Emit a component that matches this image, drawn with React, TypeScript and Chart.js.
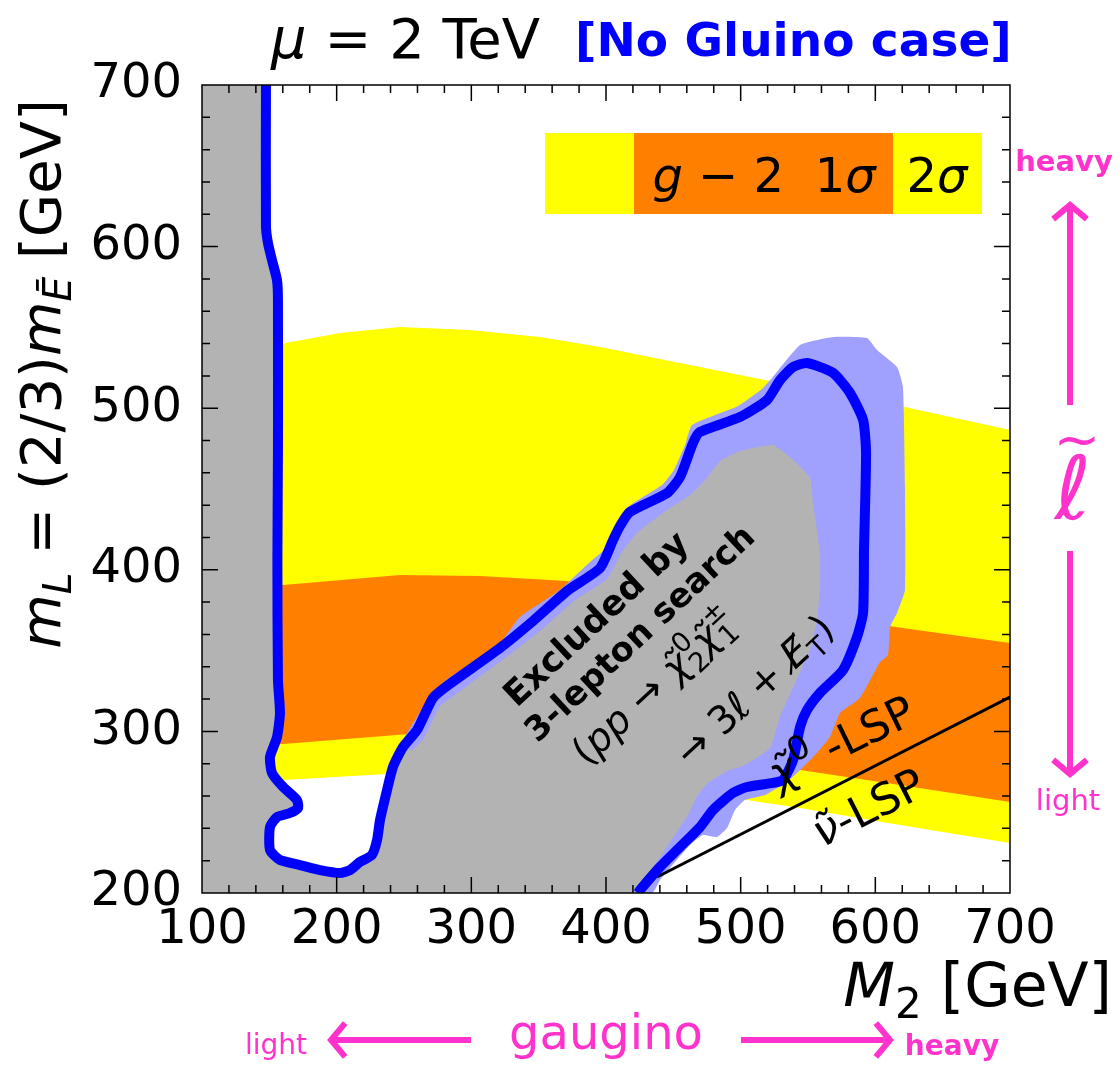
import React, { useEffect, useRef } from 'react';
import { Chart, registerables } from 'chart.js';

Chart.register(...registerables);

type P = [number, number];

// ---------- data (GeV) ----------
const xRange: P = [100, 700];
const yRange: P = [200, 700];
const tickStep = 100;
const minorStep = 20;

// blue solid exclusion contour (3-lepton search)
const exclusionContour: P[] = [
  [147.5, 700], [147.5, 612.6], [149.0, 602.1], [152.0, 591.6], [155.7, 579.2], [156.4, 566.9],
  [156.4, 474.1], [156.0, 406.1], [156.4, 331.8], [157.9, 311.4], [155.7, 296.5], [150.5, 284.2],
  [152.0, 274.3], [160.2, 265.6], [170.5, 257.5], [171.3, 252.6], [165.3, 249.5], [155.7, 247.0],
  [150.5, 240.8], [150.5, 226.6], [157.9, 220.4], [172.8, 217.3], [187.6, 214.2], [202.5, 212.4],
  [209.9, 214.2], [217.3, 219.2], [226.2, 223.5], [230.0, 232.8], [232.2, 245.2], [237.4, 263.7],
  [241.8, 278.0], [249.3, 290.3], [259.7, 300.9], [271.5, 320.7], [281.9, 328.1], [321.3, 351.6],
  [345.8, 368.3], [371.1, 386.9], [395.6, 401.1], [405.2, 418.4], [410.4, 427.1], [417.8, 435.8],
  [445.3, 447.5], [455.0, 457.4], [464.6, 478.5], [469.8, 485.3], [499.5, 494.5], [519.6, 505.1],
  [529.2, 517.4], [538.9, 525.5], [549.3, 528.0], [568.6, 521.8], [581.2, 509.4], [590.9, 492.7],
  [593.1, 472.3], [591.6, 412.2], [590.9, 373.3], [586.4, 358.4], [576.0, 338.0], [558.9, 323.8],
  [549.3, 313.2], [544.1, 302.7], [538.9, 282.3], [531.5, 269.9], [524.0, 268.1], [504.7, 265.6],
  [494.3, 261.9], [479.5, 251.4], [469.8, 240.8], [455.0, 228.5], [440.1, 216.1], [425.3, 201.9],
  [423.8, 200],
];

// light-blue uncertainty band of the exclusion
const uncertaintyBand: P[] = [
  [247.0, 291.6], [255.9, 304.0], [267.8, 319.4], [280.4, 331.2], [321.3, 354.7], [336.1, 370.8],
  [365.8, 387.5], [388.1, 404.8], [400.0, 413.5], [408.2, 425.9], [416.3, 438.9], [441.6, 452.5],
  [450.5, 461.8], [458.7, 477.2], [463.9, 489.6], [498.0, 501.4], [515.8, 511.9], [523.3, 518.7],
  [544.1, 539.1], [568.6, 544.1], [593.8, 543.4], [601.2, 536.0], [616.1, 525.5], [620.5, 513.1],
  [622.0, 451.2], [622.0, 387.5], [616.1, 373.3], [610.9, 364.6], [609.4, 347.3], [603.5, 342.9],
  [588.6, 320.7], [573.8, 311.4], [566.3, 296.5], [555.2, 285.4], [544.1, 276.1], [534.4, 268.7],
  [518.1, 260.6], [503.2, 257.5], [495.8, 251.4], [489.9, 240.2], [482.4, 234.7], [472.0, 235.9],
  [462.4, 229.7], [451.2, 219.2], [440.1, 208.0], [434.2, 200], [365.8, 200], [269.3, 282.3],
];

// grey core of the excluded region
const excludedCore: P[] = [
  [232.2, 200], [236.6, 245.2], [241.8, 263.7], [247.8, 278.0], [255.2, 287.3], [264.9, 295.9],
  [276.7, 315.7], [287.9, 322.5], [325.0, 345.4], [351.0, 362.1], [376.2, 380.7], [400.7, 394.3],
  [411.9, 411.0], [423.0, 422.8], [445.3, 437.0], [462.4, 446.3], [475.0, 456.8], [484.7, 467.3],
  [499.5, 473.5], [524.0, 477.2], [538.9, 467.9], [551.5, 456.8], [553.7, 441.3], [558.9, 410.4],
  [558.9, 389.4], [556.7, 368.9], [551.5, 350.4], [540.4, 329.9], [529.2, 308.9], [521.8, 289.7],
  [503.2, 279.2], [489.9, 275.5], [475.8, 268.1], [468.3, 260.6], [460.9, 248.3], [451.2, 235.9],
  [440.1, 222.3], [429.0, 209.3], [421.5, 200],
];

// g-2 bands
const yellowTop: P[] = [
  [140, 537], [157.9, 539.7], [202.5, 546.5], [247.0, 550.2], [299.0, 548.4], [351.0, 544.1],
  [395.6, 537.9], [469.8, 525.5], [544.1, 513.1], [623.5, 500.4], [700, 486.5],
];
const yellowBottom: P[] = [
  [140, 269.5], [160.2, 269.9], [237.4, 273.6], [321.3, 273.0], [395.6, 268.7], [469.8, 261.9],
  [544.1, 252.6], [618.3, 242.1], [700, 230.9],
];
const orangeTop: P[] = [
  [140, 389.5], [160.2, 390.6], [247.0, 396.8], [306.4, 396.2], [371.1, 393.1], [469.8, 382.5],
  [544.1, 373.9], [615.1, 364.6], [700, 354.7],
];
const orangeBottom: P[] = [
  [140, 291.5], [160.2, 292.2], [254.2, 298.4], [321.3, 297.2], [395.6, 291.6], [469.8, 284.2],
  [544.1, 276.1], [618.3, 266.8], [700, 256.3],
];

// chi-LSP / sneutrino-LSP boundary
const lspBoundary: P[] = [[437.9, 209.9], [700, 321.3]];

// annotation anchors (data coordinates)
const excludedAnchor: P = [393.3, 370.8];
const chiLspAnchor: P = [527.7, 263.7];
const nuLspAnchor: P = [560.4, 227.8];

// ---------- helpers ----------
const toXY = (pts: P[]) => pts.map(([x, y]) => ({ x, y }));
const closed = (pts: P[]) => toXY([...pts, pts[0]]);
const band = (top: P[], bottom: P[]) => toXY([...top, ...bottom.slice().reverse(), top[0]]);

const FAM = '"DejaVu Sans", sans-serif';
const PINK = '#ff33cc';

interface Seg { t: string; it?: boolean; b?: boolean; s?: number; dy?: number; stack?: boolean }

function fontOf(seg: Seg, size: number) {
  return `${seg.it ? 'italic ' : ''}${seg.b ? 'bold ' : ''}${(size * (seg.s ?? 1)).toFixed(1)}px ${FAM}`;
}

function drawRich(ctx: CanvasRenderingContext2D, x: number, y: number, rot: number, segs: Seg[], size: number,
  align: 'left' | 'center' | 'right', color: string) {
  ctx.save();
  ctx.translate(x, y);
  if (rot) ctx.rotate((rot * Math.PI) / 180);
  const ws = segs.map((sg) => { ctx.font = fontOf(sg, size); return ctx.measureText(sg.t).width; });
  let total = 0;
  segs.forEach((sg, i) => { if (!sg.stack) total += ws[i]; });
  let cx = align === 'left' ? 0 : align === 'center' ? -total / 2 : -total;
  ctx.fillStyle = color;
  ctx.textAlign = 'left';
  ctx.textBaseline = 'alphabetic';
  segs.forEach((sg, i) => {
    ctx.font = fontOf(sg, size);
    ctx.fillText(sg.t, cx, (sg.dy ?? 0) * size);
    if (!sg.stack) cx += ws[i];
  });
  ctx.restore();
}

function arrow(ctx: CanvasRenderingContext2D, x1: number, y1: number, x2: number, y2: number, color: string) {
  const ang = Math.atan2(y2 - y1, x2 - x1);
  const head = 22;
  const a = (50 * Math.PI) / 180;
  ctx.save();
  ctx.strokeStyle = color;
  ctx.lineWidth = 6;
  ctx.lineCap = 'butt';
  ctx.lineJoin = 'miter';
  ctx.beginPath();
  ctx.moveTo(x1, y1);
  ctx.lineTo(x2 - 2 * Math.cos(ang), y2 - 2 * Math.sin(ang));
  ctx.stroke();
  ctx.beginPath();
  ctx.moveTo(x2 - head * Math.cos(ang - a), y2 - head * Math.sin(ang - a));
  ctx.lineTo(x2, y2);
  ctx.lineTo(x2 - head * Math.cos(ang + a), y2 - head * Math.sin(ang + a));
  ctx.stroke();
  ctx.restore();
}

const decor = {
  id: 'decor',
  afterDatasetsDraw(chart: any) {
    const { ctx, chartArea: a, scales } = chart;
    const xs = scales.x;
    const ys = scales.y;
    const px = (v: number) => xs.getPixelForValue(v);
    const py = (v: number) => ys.getPixelForValue(v);
    ctx.save();

    // frame
    ctx.strokeStyle = '#000';
    ctx.lineWidth = 1.5;
    ctx.strokeRect(a.left, a.top, a.right - a.left, a.bottom - a.top);

    // inward ticks on all sides
    ctx.lineWidth = 1.5;
    ctx.beginPath();
    for (let v = xRange[0] + minorStep; v < xRange[1]; v += minorStep) {
      const L = v % tickStep === 0 ? 16 : 8;
      const x = px(v);
      ctx.moveTo(x, a.bottom); ctx.lineTo(x, a.bottom - L);
      ctx.moveTo(x, a.top); ctx.lineTo(x, a.top + L);
    }
    for (let v = yRange[0] + minorStep; v < yRange[1]; v += minorStep) {
      const L = v % tickStep === 0 ? 16 : 8;
      const y = py(v);
      ctx.moveTo(a.left, y); ctx.lineTo(a.left + L, y);
      ctx.moveTo(a.right, y); ctx.lineTo(a.right - L, y);
    }
    ctx.stroke();

    // g-2 legend box
    ctx.fillStyle = '#ffff00';
    ctx.fillRect(545, 133, 437, 81);
    ctx.fillStyle = '#ff8000';
    ctx.fillRect(634, 133, 259, 81);
    drawRich(ctx, 764, 192, 0, [{ t: 'g', it: true }, { t: ' \u2212 2  1' }, { t: 'σ', it: true }], 48, 'center', '#000');
    drawRich(ctx, 937, 192, 0, [{ t: '2' }, { t: 'σ', it: true }], 48, 'center', '#000');

    // excluded-region label
    const ex = px(excludedAnchor[0]);
    const ey = py(excludedAnchor[1]);
    const rot = -43;
    const lines: { u: number; v: number; size: number; segs: Seg[] }[] = [
      { u: -2, v: 12, size: 35, segs: [{ t: 'Excluded by', b: true }] },
      { u: 20, v: 52, size: 34, segs: [{ t: '3-lepton search', b: true }] },
      {
        u: -8, v: 103, size: 39, segs: [
          { t: '(' }, { t: 'pp', it: true }, { t: ' \u2192 ' }, { t: 'χ\u0303', it: true },
          { t: '0', s: 0.7, dy: -0.45, stack: true }, { t: '2', s: 0.7, dy: 0.22 },
          { t: 'χ\u0303', it: true }, { t: '±', s: 0.7, dy: -0.45, stack: true }, { t: '1', s: 0.7, dy: 0.22 },
        ],
      },
      {
        u: 65, v: 174, size: 39, segs: [
          { t: '\u2192 3' }, { t: 'ℓ', it: true }, { t: ' + ' }, { t: 'E\u0338', it: true },
          { t: 'T', s: 0.7, dy: 0.22 }, { t: ')' },
        ],
      },
    ];
    const c = Math.cos((rot * Math.PI) / 180);
    const s = Math.sin((rot * Math.PI) / 180);
    lines.forEach((ln) => {
      const x = ex + ln.u * c - ln.v * s;
      const y = ey + ln.u * s + ln.v * c;
      drawRich(ctx, x, y, rot, ln.segs, ln.size, 'center', '#000');
    });

    // LSP labels
    drawRich(ctx, px(chiLspAnchor[0]), py(chiLspAnchor[1]), -26,
      [{ t: 'χ\u0303', it: true }, { t: '0', s: 0.75, dy: -0.4 }, { t: ' -LSP' }], 44, 'left', '#000');
    drawRich(ctx, px(nuLspAnchor[0]), py(nuLspAnchor[1]), -27,
      [{ t: 'ν\u0303', it: true }, { t: '-LSP' }], 44, 'left', '#000');

    ctx.restore();
  },
  afterDraw(chart: any) {
    const { ctx } = chart;
    ctx.save();
    // title
    drawRich(ctx, 271, 58, 0, [{ t: 'μ', it: true }, { t: ' = 2 TeV' }], 56, 'left', '#000');
    drawRich(ctx, 575, 56, 0, [{ t: '[No Gluino case]', b: true }], 47, 'left', '#0000ff');
    // axis titles
    drawRich(ctx, 1112, 1006, 0, [{ t: 'M', it: true }, { t: '2', s: 0.7, dy: 0.2 }, { t: ' [GeV]' }], 60, 'right', '#000');
    drawRich(ctx, 60, 374, -90, [
      { t: 'm', it: true }, { t: 'L', it: true, s: 0.7, dy: 0.2 }, { t: ' = (2/3)' },
      { t: 'm', it: true }, { t: 'Ē', it: true, s: 0.7, dy: 0.2 }, { t: ' [GeV]' },
    ], 56, 'center', '#000');

    // right side: slepton mass direction
    drawRich(ctx, 1064, 171, 0, [{ t: 'heavy', b: true }], 29, 'center', PINK);
    arrow(ctx, 1070, 405, 1070, 205, PINK);
    drawRich(ctx, 1077, 458, 0, [{ t: '~' }], 56, 'center', PINK);
    drawRich(ctx, 1073, 519, 0, [{ t: 'ℓ', it: true }], 88, 'center', PINK);
    arrow(ctx, 1070, 551, 1070, 774, PINK);
    drawRich(ctx, 1068, 810, 0, [{ t: 'light' }], 29, 'center', PINK);

    // bottom: gaugino mass direction
    drawRich(ctx, 276, 1054, 0, [{ t: 'light' }], 28, 'center', PINK);
    arrow(ctx, 471, 1040, 331, 1040, PINK);
    drawRich(ctx, 606, 1049, 0, [{ t: 'gaugino' }], 48, 'center', PINK);
    arrow(ctx, 741, 1040, 890, 1040, PINK);
    drawRich(ctx, 952, 1055, 0, [{ t: 'heavy', b: true }], 28, 'center', PINK);
    ctx.restore();
  },
};

const fillSet = (label: string, data: any[], color: string, order: number, tension: number) => ({
  label,
  data,
  fill: 'shape',
  backgroundColor: color,
  borderColor: 'rgba(0,0,0,0)',
  borderWidth: 0,
  pointRadius: 0,
  tension,
  order,
  clip: 0,
});

export default function App() {
  const ref = useRef<HTMLCanvasElement>(null);

  useEffect(() => {
    const canvas = ref.current;
    if (!canvas) return;
    const chart = new Chart(canvas, {
      type: 'line',
      data: {
        datasets: [
          {
            label: 'exclusion',
            data: toXY(exclusionContour),
            borderColor: '#0000ff',
            borderWidth: 10,
            borderJoinStyle: 'round',
            fill: false,
            pointRadius: 0,
            tension: 0.2,
            order: 1,
            clip: 0,
          } as any,
          {
            label: 'LSP boundary',
            data: toXY(lspBoundary),
            borderColor: '#000',
            borderWidth: 3,
            fill: false,
            pointRadius: 0,
            order: 2,
            clip: 0,
          } as any,
          fillSet('core', closed(excludedCore), '#b3b3b3', 3, 0.15) as any,
          fillSet('uncertainty', closed(uncertaintyBand), '#a0a0ff', 4, 0.15) as any,
          fillSet('excluded', toXY([[100, 200], [100, 700], ...exclusionContour, [100, 200]]), '#b3b3b3', 5, 0.2) as any,
          fillSet('g-2 1σ', band(orangeTop, orangeBottom), '#ff8000', 6, 0) as any,
          fillSet('g-2 2σ', band(yellowTop, yellowBottom), '#ffff00', 7, 0) as any,
        ],
      },
      options: {
        responsive: false,
        devicePixelRatio: 1,
        animation: false,
        events: [],
        layout: { padding: { left: 0, top: 85, right: 110, bottom: 0 } },
        plugins: { legend: { display: false }, title: { display: false }, tooltip: { enabled: false } },
        scales: {
          x: {
            type: 'linear',
            min: xRange[0],
            max: xRange[1],
            grid: { display: false },
            border: { display: false },
            ticks: { stepSize: tickStep, color: '#000', font: { family: FAM, size: 48 }, padding: 1, maxRotation: 0, autoSkip: false },
            afterFit: (sc: any) => { sc.height = 172; },
          },
          y: {
            type: 'linear',
            min: yRange[0],
            max: yRange[1],
            grid: { display: false },
            border: { display: false },
            ticks: { stepSize: tickStep, color: '#000', font: { family: FAM, size: 48 }, padding: 12 },
            afterFit: (sc: any) => { sc.width = 202; },
          },
        },
      } as any,
      plugins: [decor],
    });
    return () => chart.destroy();
  }, []);

  return (
    <div style={{ position: 'absolute', left: 0, top: 0, width: 1120, height: 1065, background: '#fff' }}>
      <canvas ref={ref} width={1120} height={1065} style={{ display: 'block', width: 1120, height: 1065 }} />
    </div>
  );
}
